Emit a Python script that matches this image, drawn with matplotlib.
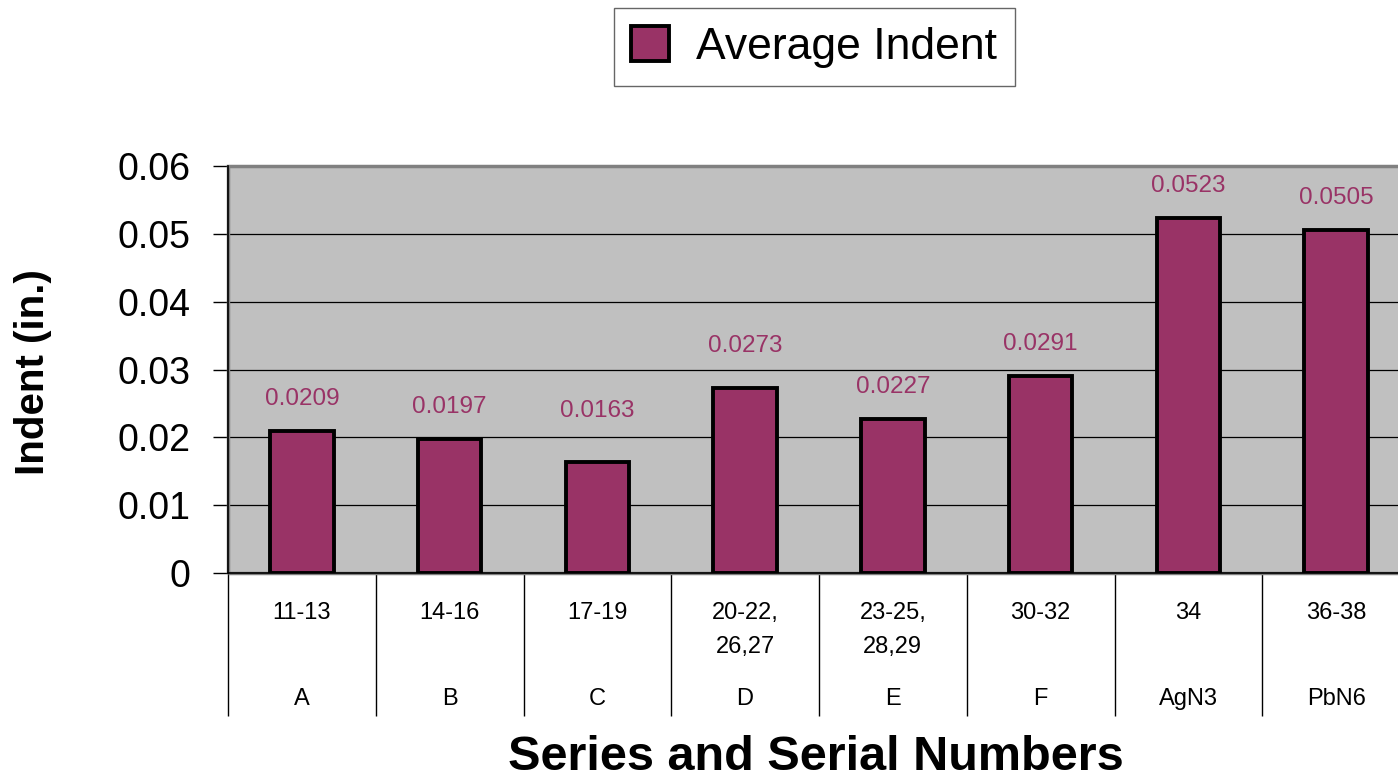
import matplotlib

matplotlib.use("Agg")
import matplotlib.pyplot as plt
from matplotlib.patches import Rectangle

plt.rcParams["font.family"] = ["Liberation Sans", "DejaVu Sans"]

# chart data
serials = ["11-13", "14-16", "17-19", "20-22,\n26,27", "23-25,\n28,29", "30-32", "34", "36-38"]
series = ["A", "B", "C", "D", "E", "F", "AgN3", "PbN6"]
avg_indent = [0.0209, 0.0197, 0.0163, 0.0273, 0.0227, 0.0291, 0.0523, 0.0505]
y_ticks = [0, 0.01, 0.02, 0.03, 0.04, 0.05, 0.06]

bar_color = "#993366"
# extra lift (points) for labels that would sit on a gridline, like Excel does
label_lift = [0, 0, 14, 7, 0, 0, 0, 0]

fig = plt.figure(figsize=(13.98, 7.78), dpi=100)
ax = fig.add_axes([228 / 1398, 205 / 778, 1182 / 1398, 407 / 778])
ax.set_facecolor("#c0c0c0")

x = list(range(len(avg_indent)))
bars = ax.bar(x, avg_indent, width=0.43, color=bar_color, edgecolor="black",
              linewidth=2.8, label="Average Indent", zorder=3)
for xi, v, lift in zip(x, avg_indent, label_lift):
    ax.annotate(f"{v:.4f}", xy=(xi, v), xytext=(0, 23 + lift), textcoords="offset points",
                ha="center", va="center", color=bar_color, fontsize=17.5, zorder=4)

ax.set_xlim(-0.5, len(x) - 0.5)
ax.set_ylim(0, 0.06)
ax.set_yticks(y_ticks)
ax.set_yticklabels(["0" if t == 0 else f"{t:.2f}" for t in y_ticks], fontsize=27)
ax.tick_params(axis="y", direction="out", length=11, width=1, pad=16)
ax.grid(axis="y", color="black", linewidth=0.9, zorder=1)

# category labels (upper row) and separators
ax.set_xticks(x)
ax.set_xticklabels(serials, fontsize=17, linespacing=1.7)
ax.tick_params(axis="x", which="major", length=0, pad=21)
ax.set_xticks([i - 0.5 for i in range(len(x) + 1)], minor=True)
ax.tick_params(axis="x", which="minor", direction="out", length=103, width=1)

# series labels (lower row)
for xi, s in zip(x, series):
    ax.annotate(s, xy=(xi, 0), xycoords=("data", "axes fraction"),
                xytext=(0, -91), textcoords="offset points",
                ha="center", va="center", fontsize=17, annotation_clip=False)

# plot-area border
ax.add_patch(Rectangle((0, 0), 1, 1, transform=ax.transAxes, fill=False,
                       edgecolor="#808080", linewidth=2.5, zorder=2, clip_on=False))
for side in ["top", "right"]:
    ax.spines[side].set_visible(False)
for side in ["left", "bottom"]:
    ax.spines[side].set_color("black")
    ax.spines[side].set_linewidth(1.2)
    ax.spines[side].set_zorder(5)

fig.text(33 / 1398, 1 - 372 / 778, "Indent (in.)", rotation=90, ha="center", va="center",
         fontsize=29, fontweight="bold")
fig.text(816 / 1398, 1 - 757 / 778, "Series and Serial Numbers", ha="center", va="center",
         fontsize=35, fontweight="bold")

leg = fig.legend(handles=[bars], loc="center", bbox_to_anchor=(814 / 1398, 1 - 47 / 778),
                 fontsize=32, fancybox=False, edgecolor="#404040", borderpad=0.4,
                 borderaxespad=0, handlelength=0.85, handleheight=0.85,
                 handletextpad=0.6)
leg.get_frame().set_linewidth(1.0)

fig.savefig("out.png", dpi=100)
